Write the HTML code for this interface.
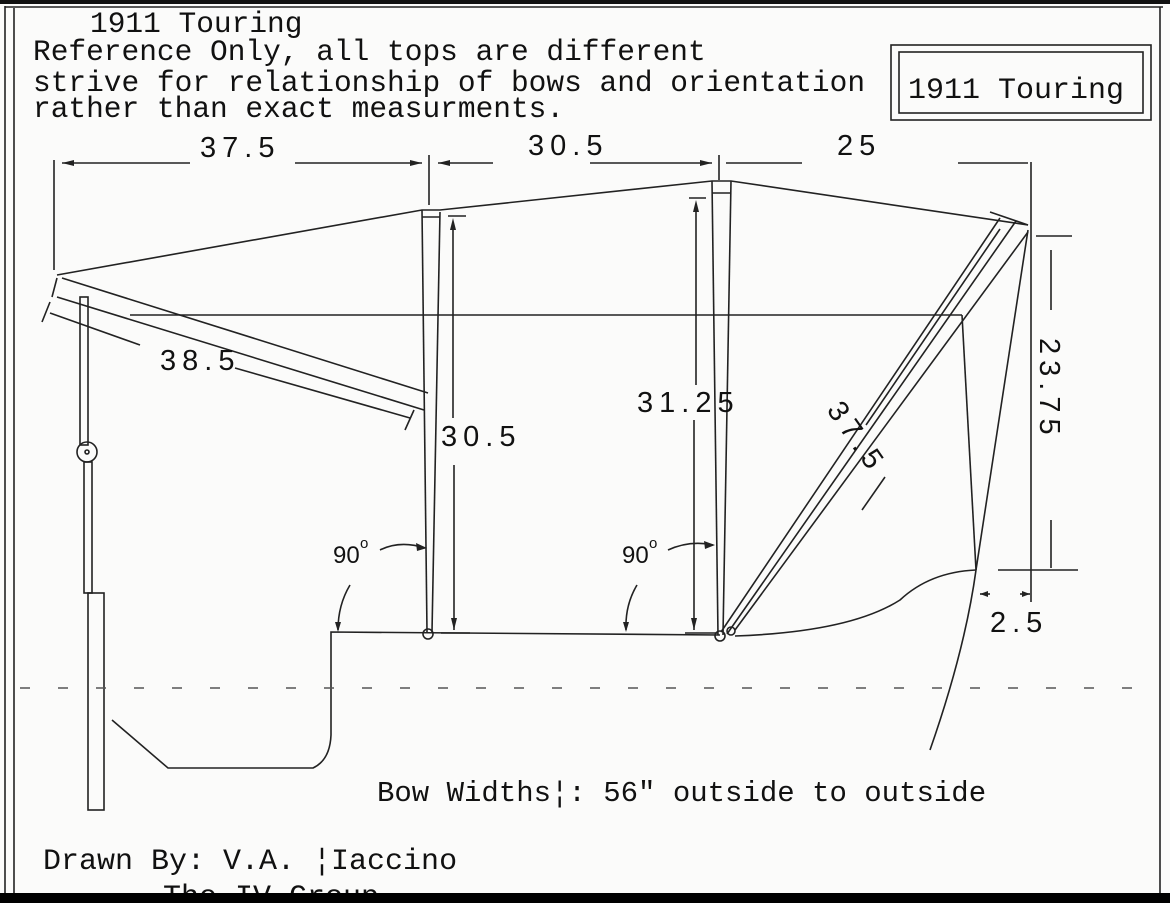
<!DOCTYPE html>
<html><head><meta charset="utf-8"><style>
html,body{margin:0;padding:0;background:#fff;}
svg{display:block}
.m{font-family:"Liberation Mono",monospace;font-size:29.5px;fill:#111}
.d{font-family:"Liberation Sans",sans-serif;font-size:29px;fill:#111;letter-spacing:6px}
</style></head><body>
<svg width="1170" height="903" viewBox="0 0 1170 903" xmlns="http://www.w3.org/2000/svg">
<rect width="1170" height="903" fill="#fbfbfa"/>
<rect x="0" y="0" width="1170" height="4" fill="#111"/>
<g stroke="#222" fill="none" stroke-width="1.6">
<line x1="5" y1="6" x2="5" y2="893"/><line x1="14" y1="8" x2="14" y2="893"/>
<line x1="5" y1="7" x2="1163" y2="7"/><line x1="1160" y1="7" x2="1160" y2="893"/>
<rect x="891" y="45" width="260" height="75"/><rect x="899" y="52" width="244" height="61"/>
<polyline points="57,275 422,210 440,210 712,181 731,181 1028,225"/>
<line x1="422" y1="210" x2="427" y2="632"/><line x1="440" y1="212" x2="432" y2="632"/>
<line x1="422" y1="217" x2="440" y2="217"/>
<line x1="712" y1="181" x2="718" y2="635"/><line x1="731" y1="181" x2="723" y2="635"/>
<line x1="712" y1="193" x2="731" y2="193"/>
<line x1="721" y1="632" x2="1000" y2="218"/><line x1="727" y1="634" x2="1016" y2="221"/>
<line x1="735" y1="630" x2="1028" y2="232"/>
<line x1="990" y1="212" x2="1028" y2="225"/>
<line x1="1028" y1="230" x2="976" y2="570"/>
<path d="M976,570 Q965,650 930,750"/>
<line x1="130" y1="315" x2="962" y2="315"/><line x1="962" y1="315" x2="976" y2="570"/>
<line x1="62" y1="278" x2="428" y2="393"/><line x1="57" y1="297" x2="424" y2="410"/>
<line x1="57" y1="278" x2="52" y2="297"/>
<path d="M112,720 L168,768 L313,768 Q330,760 331,735 L331,632 L720,635"/>
<path d="M735,636 Q850,632 900,600 Q930,572 976,570"/>
<rect x="80" y="297" width="8" height="148"/>
<circle cx="87" cy="452" r="10"/><circle cx="87" cy="452" r="2"/>
<rect x="84" y="462" width="8" height="131"/>
<rect x="88" y="593" width="16" height="217"/>
<circle cx="428" cy="634" r="5"/><circle cx="720" cy="636" r="5"/><circle cx="731" cy="631" r="4"/>
<line x1="54" y1="160" x2="54" y2="270"/>
<line x1="62" y1="163" x2="190" y2="163"/><line x1="295" y1="163" x2="422" y2="163"/>
<line x1="429" y1="155" x2="429" y2="205"/>
<line x1="438" y1="163" x2="493" y2="163"/><line x1="590" y1="163" x2="712" y2="163"/>
<line x1="719" y1="155" x2="719" y2="180"/>
<line x1="726" y1="163" x2="802" y2="163"/><line x1="958" y1="163" x2="1028" y2="163"/>
<line x1="1031" y1="162" x2="1031" y2="602"/>
<line x1="1036" y1="236" x2="1072" y2="236"/><line x1="998" y1="570" x2="1078" y2="570"/>
<line x1="1051" y1="250" x2="1051" y2="310"/><line x1="1051" y1="520" x2="1051" y2="568"/>
<line x1="980" y1="594" x2="990" y2="594"/><line x1="1020" y1="594" x2="1030" y2="594"/>
<line x1="50" y1="313" x2="140" y2="345"/><line x1="235" y1="368" x2="410" y2="418"/>
<line x1="42" y1="322" x2="50" y2="302"/><line x1="405" y1="430" x2="414" y2="410"/>
<line x1="453" y1="228" x2="453" y2="418"/><line x1="448" y1="216" x2="466" y2="216"/>
<line x1="454" y1="465" x2="454" y2="630"/><line x1="441" y1="633" x2="470" y2="633"/>
<line x1="696" y1="208" x2="696" y2="385"/><line x1="689" y1="198" x2="706" y2="198"/>
<line x1="694" y1="420" x2="694" y2="630"/><line x1="685" y1="633" x2="718" y2="633"/>
<line x1="866" y1="425" x2="1000" y2="229"/><line x1="862" y1="510" x2="885" y2="477"/>
<path d="M380,550 Q400,540 425,548"/><path d="M350,585 Q338,605 338,630"/>
<path d="M668,550 Q690,540 713,545"/><path d="M637,585 Q625,605 626,630"/>
</g>
<g fill="#222">
<polygon points="62,163 74,160 74,166"/><polygon points="422,163 410,160 410,166"/>
<polygon points="438,163 450,160 450,166"/><polygon points="712,163 700,160 700,166"/>
<polygon points="453,218 450,230 456,230"/><polygon points="454,630 451,618 457,618"/>
<polygon points="696,200 693,212 699,212"/><polygon points="694,630 691,618 697,618"/>
<polygon points="980,594 988,591 988,597"/><polygon points="1030,594 1022,591 1022,597"/>
<polygon points="427,548 416,543 417,551"/><polygon points="338,632 335,622 341,622"/>
<polygon points="715,545 704,541 705,549"/><polygon points="626,632 623,622 629,622"/>
</g>
<g stroke="#555" stroke-width="1.5" stroke-dasharray="10,28">
<line x1="20" y1="688" x2="1145" y2="688"/>
</g>
<text class="m" x="90" y="32">1911 Touring</text>
<text class="m" x="33" y="60">Reference Only, all tops are different</text>
<text class="m" x="33" y="91">strive for relationship of bows and orientation</text>
<text class="m" x="33" y="117">rather than exact measurments.</text>
<text class="m" x="908" y="98" style="font-size:30px">1911 Touring</text>
<text class="d" x="200" y="157">37.5</text>
<text class="d" x="528" y="155">30.5</text>
<text class="d" x="837" y="155">25</text>
<text class="d" x="160" y="370">38.5</text>
<text class="d" x="441" y="446">30.5</text>
<text class="d" x="637" y="412">31.25</text>
<text class="d" x="990" y="632">2.5</text>
<text class="d" transform="translate(1040,338) rotate(90)">23.75</text>
<text class="d" transform="translate(826,410) rotate(55)">37.5</text>
<text x="333" y="563" style="font-family:'Liberation Sans',sans-serif;font-size:24px;fill:#111">90</text>
<text x="360" y="548" style="font-family:'Liberation Sans',sans-serif;font-size:15px;fill:#111">o</text>
<text x="622" y="563" style="font-family:'Liberation Sans',sans-serif;font-size:24px;fill:#111">90</text>
<text x="649" y="548" style="font-family:'Liberation Sans',sans-serif;font-size:15px;fill:#111">o</text>
<text class="m" x="377" y="801" style="font-size:29px">Bow Widths¦:  56" outside to outside</text>
<text class="m" x="43" y="869" style="font-size:30px">Drawn By: V.A. ¦Iaccino</text>
<text class="m" x="163" y="905" style="font-size:30px">The IV Group</text>
<rect x="0" y="893" width="1170" height="10" fill="#000"/>
</svg>
</body></html>
